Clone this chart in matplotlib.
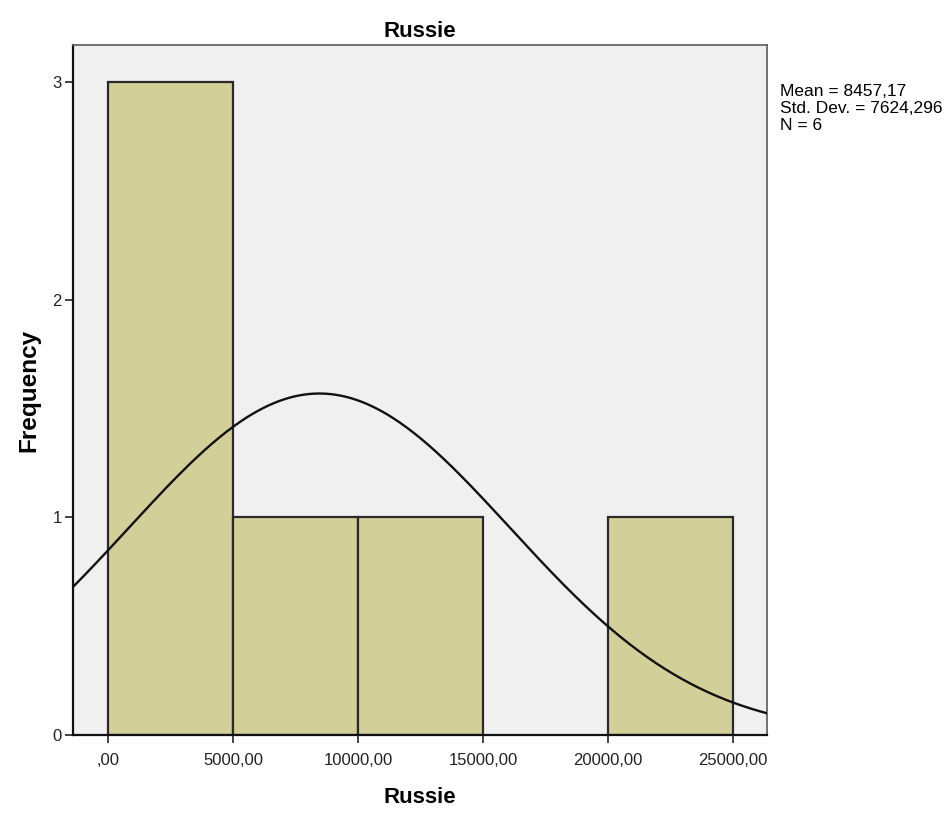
import numpy as np
import matplotlib.pyplot as plt

plt.rcParams['font.family'] = ['Liberation Sans', 'DejaVu Sans']

# Histogram bins and counts
bin_edges = [0, 5000, 10000, 15000, 20000, 25000]
counts = [3, 1, 1, 0, 1]

# Summary statistics shown in the legend
mean = 8457.17
std = 7624.296
n = 6

tick_vals = [0, 5000, 10000, 15000, 20000, 25000]
tick_labels = [',00', '5000,00', '10000,00', '15000,00', '20000,00', '25000,00']

fig = plt.figure(figsize=(9.5, 8.15), dpi=100)
ax = fig.add_axes([0.0768, 0.0982, 0.7306, 0.8466])
ax.set_facecolor('#f0f0f0')

lefts = bin_edges[:-1]
widths = np.diff(bin_edges)
for l, w, c in zip(lefts, widths, counts):
    if c > 0:
        ax.bar(l, c, width=w, align='edge', color='#d3cf98',
               edgecolor='#2a2a2a', linewidth=1.6, zorder=2)

# Normal curve scaled to the histogram
x = np.linspace(-1400, 26360, 400)
bw = bin_edges[1] - bin_edges[0]
y = n * bw / (std * np.sqrt(2 * np.pi)) * np.exp(-0.5 * ((x - mean) / std) ** 2)
ax.plot(x, y, color='#111111', linewidth=1.7, zorder=3)

ax.set_xlim(-1400, 26360)
ax.set_ylim(0, 3.172)
ax.set_xticks(tick_vals)
ax.set_xticklabels(tick_labels)
ax.set_yticks([0, 1, 2, 3])
ax.tick_params(axis='both', direction='out', length=6, width=1.2,
               labelsize=12, colors='#222222')
ax.tick_params(axis='x', pad=7)
ax.tick_params(axis='y', pad=2)
for s in ['top', 'right']:
    ax.spines[s].set_color('#666666')
    ax.spines[s].set_linewidth(1.3)
for s in ['left', 'bottom']:
    ax.spines[s].set_color('#111111')
    ax.spines[s].set_linewidth(1.6)

ax.set_title('Russie', fontsize=16, fontweight='bold', pad=6)
ax.set_xlabel('Russie', fontsize=16, fontweight='bold', labelpad=14)
ax.set_ylabel('Frequency', fontsize=17.5, fontweight='bold', labelpad=9)

fig.text(0.821, 0.897, 'Mean = 8457,17\nStd. Dev. = 7624,296\nN = 6',
         fontsize=12.5, va='top', ha='left', linespacing=1.15)

fig.savefig('out.png', dpi=100)
